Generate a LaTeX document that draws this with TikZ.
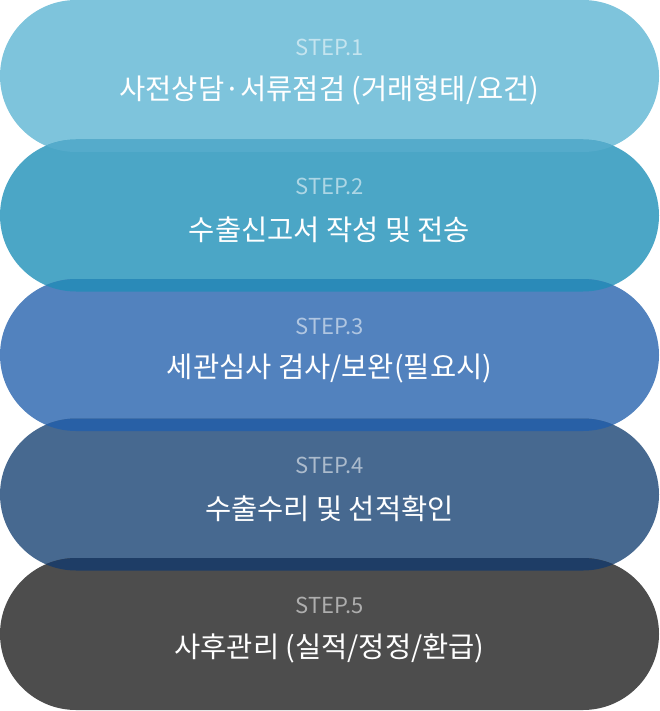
\documentclass[tikz,border=0pt]{standalone}
\usepackage{fontspec}
\setmainfont{Noto Sans CJK KR}
\definecolor{stepA}{HTML}{7EC4DC}
\definecolor{stepB}{HTML}{4BA6C6}
\definecolor{stepC}{HTML}{5282BE}
\definecolor{stepD}{HTML}{476990}
\definecolor{stepE}{HTML}{4D4D4D}
\definecolor{lapAB}{HTML}{55ABCB}
\definecolor{lapBC}{HTML}{2A8AB8}
\definecolor{lapCD}{HTML}{2860A6}
\definecolor{lapDE}{HTML}{1E3D66}
\begin{document}
\begin{tikzpicture}[x=1pt,y=1pt,
    stepname/.style={font=\fontsize{22}{26}\selectfont,text=white,text opacity=0.55},
    steptext/.style={font=\fontsize{28.5}{32}\selectfont,text=white}]
  \useasboundingbox (0,0) rectangle (659,-711);
  % pills
  \foreach \top/\col in {0/stepA,139.5/stepB,279/stepC,418.5/stepD,558/stepE}
    \fill[\col,rounded corners=76pt] (0,-\top) rectangle (659,-\top-152);
  % overlaps
  \foreach \top/\col in {0/lapAB,139.5/lapBC,279/lapCD,418.5/lapDE}{
    \begin{scope}
      \clip[rounded corners=76pt] (0,-\top) rectangle (659,-\top-152);
      \fill[\col,rounded corners=76pt] (0,-\top-139.5) rectangle (659,-\top-291.5);
    \end{scope}}
  % labels
  \node[stepname] (n1) at (329.5,-47) {STEP.1};
  \node[steptext] (t1) at (329.5,-90) {사전상담·서류점검 (거래형태/요건)};
  \node[stepname] (n2) at (329.5,-186.5) {STEP.2};
  \node[steptext] (t2) at (329.5,-229.5) {수출신고서 작성 및 전송};
  \node[stepname] (n3) at (329.5,-326) {STEP.3};
  \node[steptext] (t3) at (329.5,-369) {세관심사 검사/보완(필요시)};
  \node[stepname] (n4) at (329.5,-465.5) {STEP.4};
  \node[steptext] (t4) at (329.5,-508.5) {수출수리 및 선적확인};
  \node[stepname] (n5) at (329.5,-605) {STEP.5};
  \node[steptext] (t5) at (329.5,-648) {사후관리 (실적/정정/환급)};
\end{tikzpicture}
\end{document}
